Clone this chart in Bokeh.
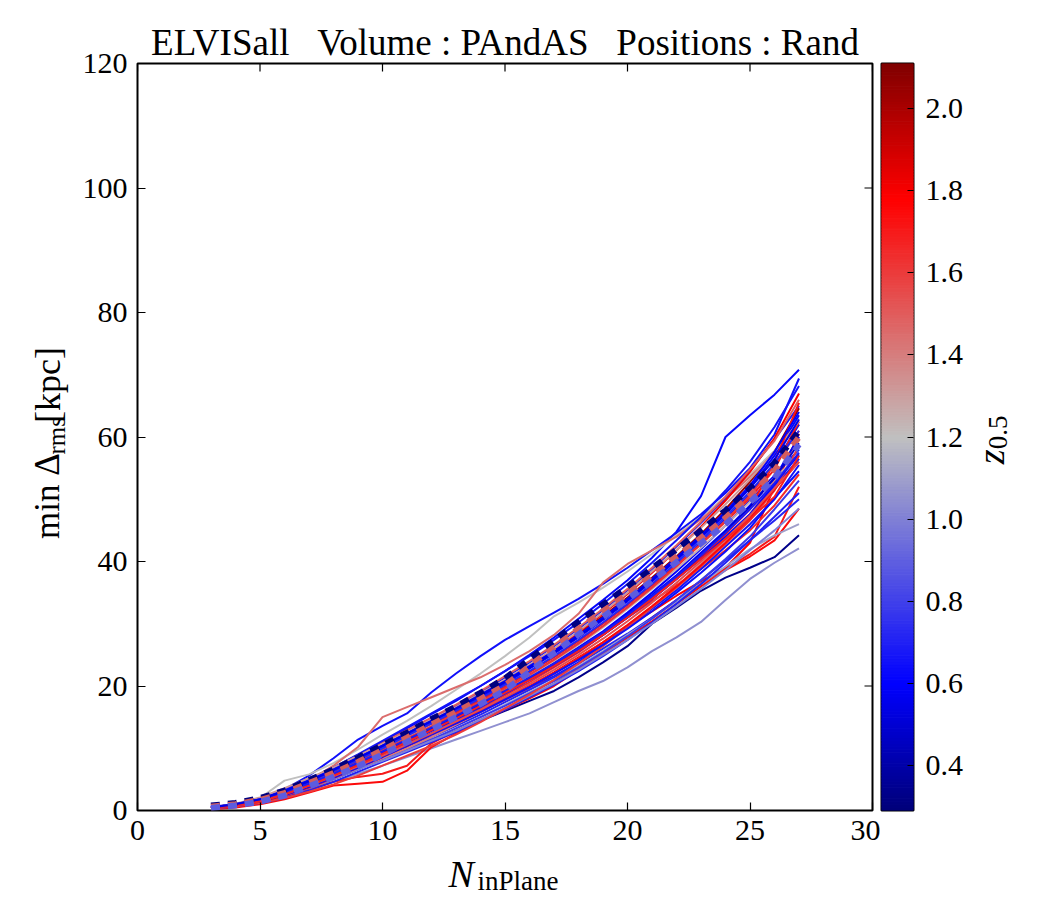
import math
import numpy as np
from bokeh.plotting import figure
from bokeh.models import Range1d, FixedTicker, Label, LinearAxis, PrintfTickFormatter
from bokeh.layouts import row, column
from bokeh.embed import file_html
from bokeh.resources import INLINE

# ---------------- data ----------------
n_in_plane = list(range(3, 28))
x_ticks = [0, 5, 10, 15, 20, 25, 30]
y_ticks = [0, 20, 40, 60, 80, 100, 120]
cbar_ticks = [0.4, 0.6, 0.8, 1.0, 1.2, 1.4, 1.6, 1.8, 2.0]
z_low, z_high = 0.29, 2.11

host_01 = [0.5, 0.9, 1.6, 2.9, 4.6, 6.6, 8.8, 11.0, 13.2, 15.5, 17.6, 20.0, 22.4, 25.0, 27.8, 30.8, 33.8, 37.0, 40.6, 44.8, 50.5, 60.0, 63.5, 66.8, 70.8]
host_02 = [0.6, 1.0, 1.8, 3.4, 5.6, 8.4, 11.4, 13.6, 15.6, 19.0, 22.0, 24.8, 27.4, 29.6, 31.8, 34.0, 36.4, 39.0, 41.8, 44.6, 47.6, 51.0, 55.0, 60.4, 69.4]
host_03 = [0.5, 1.0, 2.0, 4.8, 5.8, 7.6, 9.8, 12.2, 14.4, 16.8, 19.4, 22.0, 24.8, 27.8, 31.2, 33.4, 35.8, 38.4, 41.2, 44.2, 47.2, 50.4, 54.0, 57.8, 63.0]
host_04 = [0.4, 0.9, 1.7, 3.0, 4.8, 7.2, 10.2, 15.0, 16.6, 18.2, 19.8, 21.4, 23.4, 25.6, 28.2, 31.6, 36.6, 39.6, 41.8, 44.0, 46.8, 50.0, 53.6, 57.4, 62.0]
host_05 = [0.3, 0.8, 1.3, 2.4, 3.6, 5.0, 6.6, 8.3, 9.9, 11.4, 12.8, 14.4, 16.0, 17.6, 19.2, 21.4, 23.8, 26.4, 30.0, 32.6, 35.3, 37.4, 39.0, 40.7, 44.2]
host_06 = [0.3, 0.7, 1.4, 2.3, 3.4, 4.6, 5.9, 7.2, 8.6, 10.0, 11.4, 12.8, 14.2, 15.6, 17.4, 19.2, 20.8, 23.0, 25.6, 27.8, 30.3, 33.8, 37.2, 39.8, 42.1]
host_07 = [0.2, 0.5, 1.0, 1.8, 2.9, 4.0, 4.3, 4.6, 6.4, 10.2, 12.4, 14.4, 16.2, 18.0, 20.0, 22.6, 25.2, 27.8, 30.4, 33.2, 36.0, 38.6, 40.8, 43.4, 48.5]
host_08 = [0.3, 0.7, 1.3, 2.2, 3.4, 4.6, 5.4, 5.9, 7.2, 10.8, 12.8, 14.6, 16.4, 18.2, 20.4, 22.8, 25.4, 28.2, 31.0, 33.8, 36.4, 38.8, 41.2, 44.0, 52.0]
host_09 = [0.4, 0.9, 1.5, 2.6, 3.9, 5.4, 7.0, 8.8, 10.6, 12.4, 14.2, 16.0, 18.0, 20.0, 22.2, 24.6, 27.0, 29.6, 32.0, 34.5, 36.8, 39.0, 43.0, 52.0, 60.5]
host_10 = [0.4, 0.8, 1.5, 2.7, 4.2, 5.8, 7.5, 9.2, 11.0, 12.8, 14.6, 16.4, 18.5, 20.6, 23.0, 25.4, 28.2, 31.0, 33.6, 36.2, 38.8, 41.8, 45.0, 49.0, 54.0]
host_11 = [0.4, 0.8, 1.4, 2.3, 3.6, 5.2, 7.0, 8.8, 10.6, 12.4, 14.4, 16.2, 18.0, 19.8, 21.6, 23.8, 26.6, 29.6, 32.4, 35.4, 38.8, 42.4, 46.0, 50.0, 55.5]
host_12 = [0.4, 0.8, 1.5, 2.5, 3.9, 5.4, 7.0, 8.6, 10.2, 11.8, 13.6, 15.4, 17.4, 19.4, 21.4, 23.6, 26.0, 28.4, 31.0, 33.8, 37.0, 40.2, 43.4, 46.6, 50.0]
host_13 = [0.5, 0.9, 1.7, 2.8, 4.2, 5.6, 7.0, 8.4, 9.8, 11.4, 13.2, 15.0, 17.0, 19.0, 21.0, 23.2, 25.6, 28.2, 30.8, 33.6, 36.4, 39.2, 42.0, 44.2, 46.0]
host_14 = [0.5, 1.0, 1.8, 3.0, 4.6, 6.2, 8.0, 9.8, 11.8, 13.8, 15.8, 17.6, 19.6, 21.6, 23.8, 26.2, 28.8, 31.8, 35.0, 38.4, 42.0, 45.8, 49.8, 53.8, 58.0]
host_15 = [0.5, 1.0, 1.8, 3.2, 4.9, 6.8, 8.8, 10.8, 12.8, 14.8, 16.8, 19.0, 21.4, 23.8, 26.4, 29.2, 32.2, 35.4, 38.8, 42.4, 46.2, 50.2, 54.6, 59.6, 65.0]
host_16 = [0.4, 0.9, 1.6, 2.8, 4.4, 6.0, 7.8, 9.8, 11.8, 13.6, 15.6, 17.6, 19.6, 21.8, 24.2, 26.8, 29.6, 32.6, 35.8, 39.4, 43.0, 46.8, 50.8, 55.6, 62.0]
host_17 = [0.5, 1.0, 1.8, 3.0, 4.6, 6.4, 8.4, 10.4, 12.4, 14.4, 16.4, 18.4, 20.6, 23.0, 25.6, 28.4, 31.2, 34.2, 37.4, 40.8, 44.4, 48.4, 52.8, 57.6, 64.6]
host_18 = [0.4, 0.8, 1.6, 2.9, 4.5, 6.2, 8.2, 10.2, 12.2, 14.2, 16.2, 18.4, 20.8, 23.2, 25.8, 28.6, 31.6, 34.8, 38.2, 41.8, 45.6, 49.8, 54.4, 59.8, 67.0]
host_19 = [0.5, 1.0, 1.9, 3.3, 5.0, 6.9, 8.9, 10.9, 12.9, 14.9, 17.0, 19.2, 21.6, 24.0, 26.6, 29.4, 32.4, 35.6, 39.0, 42.6, 46.4, 50.4, 54.8, 59.4, 66.0]
host_20 = [0.4, 0.9, 1.7, 3.0, 4.6, 6.4, 8.2, 10.0, 11.9, 13.8, 15.8, 17.8, 19.9, 22.2, 24.6, 27.2, 30.0, 33.0, 36.2, 39.4, 42.8, 46.4, 50.2, 54.8, 62.5]
host_21 = [0.5, 0.9, 1.6, 2.7, 4.2, 5.8, 7.4, 9.2, 11.0, 12.8, 14.6, 16.6, 18.8, 21.0, 23.2, 25.6, 28.2, 31.0, 34.0, 37.2, 40.6, 44.0, 47.6, 52.0, 56.5]
host_22 = [0.4, 0.8, 1.4, 2.4, 3.7, 5.1, 6.6, 8.2, 9.8, 11.4, 13.2, 15.0, 16.8, 18.8, 20.8, 23.0, 25.4, 28.0, 30.8, 33.8, 37.0, 40.4, 44.0, 48.4, 53.0]
host_23 = [0.5, 1.0, 1.8, 3.1, 4.7, 6.4, 8.2, 10.0, 11.8, 13.6, 15.4, 17.4, 19.4, 21.6, 24.0, 26.6, 29.4, 32.4, 35.6, 38.8, 42.2, 45.8, 49.6, 53.4, 57.0]
host_24 = [0.4, 0.8, 1.5, 2.5, 3.8, 5.2, 6.8, 8.4, 10.0, 11.8, 13.8, 15.8, 17.8, 19.8, 22.0, 24.4, 27.0, 29.8, 32.8, 36.0, 39.6, 43.4, 47.6, 53.0, 60.0]
host_25 = [0.5, 1.0, 1.7, 2.9, 4.3, 5.8, 7.4, 9.2, 11.2, 13.2, 15.0, 17.0, 19.0, 21.2, 23.6, 26.0, 28.6, 31.6, 34.6, 37.8, 41.4, 45.0, 49.0, 53.4, 60.0]
host_26 = [0.3, 0.7, 1.2, 2.0, 3.2, 4.6, 6.2, 7.8, 9.4, 11.0, 12.6, 14.4, 16.2, 18.2, 20.2, 22.4, 24.8, 27.4, 30.2, 33.2, 36.4, 39.8, 43.4, 47.2, 51.0]
host_27 = [0.4, 0.8, 1.4, 2.4, 3.6, 5.0, 6.6, 8.0, 9.6, 11.2, 12.8, 14.6, 16.4, 18.4, 20.4, 22.6, 25.0, 27.4, 30.0, 32.8, 35.6, 38.6, 41.8, 45.0, 48.5]
host_28 = [0.3, 0.7, 1.2, 2.0, 3.0, 4.2, 5.6, 7.2, 8.8, 10.4, 12.2, 14.2, 16.4, 18.6, 21.0, 23.6, 26.4, 29.4, 32.6, 35.8, 39.2, 42.8, 46.6, 51.4, 58.5]
host_29 = [0.5, 0.9, 1.7, 2.9, 4.5, 6.3, 8.2, 10.2, 12.2, 14.2, 16.2, 18.2, 20.4, 22.8, 25.2, 27.8, 30.6, 33.6, 36.8, 40.2, 43.8, 47.6, 51.8, 57.0, 63.5]
host_30 = [0.5, 1.0, 1.9, 3.3, 5.0, 6.9, 9.0, 11.2, 13.4, 15.6, 17.8, 20.0, 22.4, 24.8, 27.4, 30.2, 33.2, 36.4, 39.8, 43.4, 47.2, 51.4, 56.0, 61.6, 68.2]
host_31 = [0.5, 1.1, 2.1, 3.6, 5.2, 6.9, 8.8, 10.7, 12.6, 14.6, 16.6, 18.8, 21.0, 23.4, 26.0, 28.8, 31.8, 35.0, 38.4, 41.8, 45.4, 49.2, 53.2, 57.6, 62.5]
host_32 = [0.4, 0.9, 1.6, 2.7, 4.2, 5.8, 7.6, 9.4, 11.2, 13.2, 15.2, 17.2, 19.2, 21.2, 23.4, 25.8, 28.4, 31.2, 34.2, 37.4, 40.8, 44.4, 48.4, 56.0, 65.5]
host_33 = [0.5, 0.9, 1.6, 2.8, 4.3, 6.0, 7.8, 9.6, 11.4, 13.2, 15.0, 17.0, 19.0, 21.2, 23.4, 25.8, 28.4, 31.2, 34.2, 37.4, 41.0, 44.8, 48.8, 53.4, 59.0]
host_34 = [0.4, 0.9, 1.5, 2.6, 4.0, 5.6, 7.4, 9.2, 11.0, 12.9, 14.8, 16.8, 18.8, 21.0, 23.2, 25.6, 28.2, 31.0, 34.0, 37.2, 40.4, 43.8, 47.6, 52.4, 57.2]
host_35 = [0.5, 1.0, 1.8, 3.1, 4.8, 6.6, 8.5, 10.4, 12.4, 14.4, 16.4, 18.6, 20.8, 23.2, 25.6, 28.2, 31.0, 34.0, 37.2, 40.6, 44.2, 48.0, 52.2, 57.6, 64.0]
host_36 = [0.4, 0.8, 1.4, 2.4, 3.7, 5.2, 6.9, 8.6, 10.4, 12.2, 14.0, 15.9, 17.8, 19.8, 22.0, 24.4, 27.0, 29.8, 32.8, 36.0, 39.4, 43.0, 47.0, 51.6, 56.0]
host_37 = [0.4, 0.8, 1.5, 2.5, 3.8, 5.3, 6.9, 8.6, 10.4, 12.2, 14.0, 15.8, 17.8, 19.8, 22.0, 24.2, 26.6, 29.2, 32.0, 35.0, 38.2, 41.6, 45.4, 50.2, 54.5]
host_38 = [0.5, 0.9, 1.7, 2.9, 4.4, 6.1, 7.9, 9.7, 11.6, 13.5, 15.5, 17.5, 19.6, 21.8, 24.2, 26.8, 29.6, 32.6, 35.8, 39.2, 42.8, 46.6, 50.6, 55.6, 61.0]
host_39 = [0.5, 1.0, 1.7, 3.0, 4.6, 6.3, 8.1, 10.0, 12.0, 14.0, 16.0, 18.0, 20.2, 22.4, 24.8, 27.4, 30.2, 33.2, 36.4, 39.8, 43.4, 47.2, 51.2, 55.8, 61.0]
host_40 = [0.4, 0.8, 1.5, 2.6, 4.0, 5.5, 7.1, 8.8, 10.6, 12.4, 14.3, 16.2, 18.2, 20.3, 22.6, 25.0, 27.6, 30.4, 33.4, 36.6, 40.0, 43.6, 47.4, 51.8, 56.0]
host_41 = [0.4, 0.9, 1.6, 2.8, 4.3, 5.9, 7.7, 9.5, 11.4, 13.3, 15.2, 17.2, 19.2, 21.4, 23.6, 26.0, 28.6, 31.4, 34.4, 37.6, 41.0, 44.6, 48.4, 52.6, 57.5]
host_42 = [0.4, 0.8, 1.5, 2.6, 4.0, 5.6, 7.3, 9.1, 11.0, 12.9, 14.8, 16.8, 18.9, 21.0, 23.2, 25.6, 28.2, 31.0, 34.0, 37.2, 40.4, 43.6, 46.8, 50.4, 57.0]
host_43 = [0.5, 1.0, 1.8, 3.1, 4.7, 6.5, 8.4, 10.4, 12.4, 14.4, 16.4, 18.5, 20.7, 23.0, 25.4, 28.0, 30.8, 33.8, 37.0, 40.4, 44.0, 47.8, 51.8, 56.4, 62.8]

z_half = [0.62, 0.65, 1.20, 1.45, 0.33, 1.05, 1.75, 1.70, 1.78, 1.65, 0.66,
          0.72, 1.10, 0.60, 0.68, 0.64, 2.05, 1.80, 1.50, 1.70, 0.66, 0.78,
          1.25, 1.40, 0.58, 0.70, 1.00, 1.60, 0.62, 0.66, 1.32, 1.72, 0.50,
          0.62, 0.60, 1.76, 0.64, 1.62, 0.72, 1.55, 0.68, 1.68, 0.55]

mean_navy = [0.8, 1.2, 2.0, 3.2, 4.9, 6.6, 8.5, 10.5, 12.5, 14.7, 16.7, 18.9, 21.2, 24.3, 27.3, 30.3, 33.1, 35.9, 38.9, 41.9, 45.0, 48.2, 51.8, 55.8, 61.0]
mean_red = [0.6, 1.0, 1.7, 2.8, 4.4, 6.0, 7.8, 9.7, 11.7, 13.8, 15.8, 17.9, 20.1, 23.2, 26.2, 29.2, 32.0, 34.8, 37.8, 40.8, 43.8, 47.0, 50.6, 54.6, 60.0]
mean_slate = [0.4, 0.8, 1.4, 2.4, 3.9, 5.4, 7.1, 9.0, 11.0, 13.0, 15.0, 17.1, 19.3, 22.3, 25.3, 28.3, 31.1, 33.9, 36.9, 39.9, 42.9, 46.0, 49.5, 53.4, 58.8]

hosts = [host_01, host_02, host_03, host_04, host_05, host_06, host_07, host_08,
         host_09, host_10, host_11, host_12, host_13, host_14, host_15, host_16,
         host_17, host_18, host_19, host_20, host_21, host_22, host_23, host_24,
         host_25, host_26, host_27, host_28, host_29, host_30, host_31, host_32,
         host_33, host_34, host_35, host_36, host_37, host_38, host_39, host_40,
         host_41, host_42, host_43]

# ---------------- colour map ----------------
cmap_stops = [(0.29, (0, 0, 120)), (0.60, (0, 0, 255)), (1.20, (192, 192, 192)),
              (1.78, (255, 0, 0)), (2.11, (128, 0, 0))]


def zcolor(z):
    z = min(max(z, cmap_stops[0][0]), cmap_stops[-1][0])
    for (z0, c0), (z1, c1) in zip(cmap_stops[:-1], cmap_stops[1:]):
        if z0 <= z <= z1:
            t = (z - z0) / (z1 - z0)
            r, g, b = (int(round(a + (bb - a) * t)) for a, bb in zip(c0, c1))
            return "#%02x%02x%02x" % (r, g, b)
    return "#000000"


FONT = "Liberation Serif"
ROW_H = 850  # height of the upper row; the x-label strip sits below it
NB = "\u00a0"


def blank(width, height):
    f = figure(width=width, height=height, x_range=Range1d(0, width),
               y_range=Range1d(0, height), x_axis_type=None, y_axis_type=None,
               output_backend="svg", toolbar_location=None, min_border=0)
    f.outline_line_color = None
    f.grid.visible = False
    f.border_fill_color = "white"
    f.background_fill_color = "white"
    return f


def vlabel(fig, ox, oy, px, py, text, size, style="normal"):
    # rotated (bottom-to-top) text; px is the page x of the text's vertical centre line,
    # py the page y where the text starts; (ox, oy) = page position of the strip corner
    fig.add_layout(Label(x=px - ox, y=fig.height - (py - oy), text=text,
                         angle=math.pi / 2, text_font=FONT, text_font_size=size,
                         text_font_style=style, text_baseline="middle",
                         text_align="left", text_color="black"))


def hlabel(fig, ox, oy, px, py, text, size, style="normal"):
    # px = page x of the text start, py = page y of the text's centre line
    fig.add_layout(Label(x=px - ox, y=fig.height - (py - oy), text=text,
                         text_font=FONT, text_font_size=size, text_font_style=style,
                         text_baseline="middle", text_align="left",
                         text_color="black"))


# ---------------- y-label strip (x 0..76) ----------------
YL_W = 76
ylab = blank(YL_W, ROW_H)
vlabel(ylab, 0, 0, 47, 541, "min" + NB + "Δ", "35px")
vlabel(ylab, 0, 0, 56, 445, "rms", "25px")
vlabel(ylab, 0, 0, 47, 409, "[kpc]", "36px")

# ---------------- main plot (x 76..880) ----------------
FL, FR, FT, FB = 137, 872, 63, 810
P_W = 880 - YL_W
p = figure(width=P_W, height=ROW_H, x_range=Range1d(0, 30), y_range=Range1d(0, 120),
           output_backend="svg", toolbar_location=None,
           min_border_left=FL - YL_W, min_border_right=880 - FR, min_border_top=FT,
           min_border_bottom=ROW_H - FB,
           title="ELVISall" + NB * 3 + "Volume" + NB + ":" + NB + "PAndAS" + NB * 3
                 + "Positions" + NB + ":" + NB + "Rand")
p.title.align = "center"
p.title.text_font = FONT
p.title.text_font_size = "37px"
p.title.text_font_style = "normal"
p.title.text_color = "black"
p.title.standoff = 2
p.grid.visible = False
p.outline_line_color = "black"
p.outline_line_width = 2
p.background_fill_color = "white"
p.border_fill_color = "white"

for ax in (p.xaxis[0], p.yaxis[0]):
    ax.axis_line_color = None
    ax.major_tick_in = 8
    ax.major_tick_out = 0
    ax.major_tick_line_width = 1.2
    ax.minor_tick_line_color = None
    ax.major_label_text_font = FONT
    ax.major_label_text_font_size = "30px"
    ax.major_label_text_color = "black"
    ax.major_label_standoff = 10
p.xaxis[0].ticker = FixedTicker(ticks=x_ticks)
p.yaxis[0].ticker = FixedTicker(ticks=y_ticks)

# mirrored inward ticks on the top and right edges
p.ray(x=x_ticks, y=[120] * len(x_ticks), length=8, length_units="screen",
      angle=-math.pi / 2, line_color="black", line_width=1.2)
p.ray(x=[30] * len(y_ticks), y=y_ticks, length=8, length_units="screen",
      angle=math.pi, line_color="black", line_width=1.2)

for ys, z in zip(hosts, z_half):
    p.line(n_in_plane, ys, line_color=zcolor(z), line_width=2)

p.line(n_in_plane, mean_navy, line_color="#00007f", line_width=6, line_dash="9 8", line_dash_offset=0)
p.line(n_in_plane, mean_red, line_color="#d45c5c", line_width=6, line_dash="9 8", line_dash_offset=0)
p.line(n_in_plane, mean_slate, line_color="#5c5ce0", line_width=6, line_dash="9 8", line_dash_offset=0)

# ---------------- colour bar (x 880..970) ----------------
CL, CR, CT, CB = 881, 913, 45, 810
C_W = 90
c = figure(width=C_W, height=ROW_H, x_range=Range1d(0, 1), y_range=Range1d(z_low, z_high),
           output_backend="svg", toolbar_location=None,
           min_border_left=CL - 880, min_border_right=880 + C_W - CR, min_border_top=CT,
           min_border_bottom=ROW_H - CB)
c.grid.visible = False
c.xaxis.visible = False
c.yaxis.visible = False
c.outline_line_color = "black"
c.outline_line_width = 2
c.border_fill_color = "white"

edges = np.linspace(z_low, z_high, 257)
mids = 0.5 * (edges[:-1] + edges[1:])
cols = [zcolor(m) for m in mids]
c.quad(left=0, right=1, bottom=edges[:-1], top=edges[1:],
       fill_color=cols, line_color=cols, line_width=1)

cax = LinearAxis(ticker=FixedTicker(ticks=cbar_ticks), axis_line_color=None,
                 major_tick_in=6, major_tick_out=0, major_tick_line_width=1.2,
                 minor_tick_line_color=None, major_label_text_font=FONT,
                 major_label_text_font_size="30px", major_label_standoff=12,
                 major_label_text_color="black",
                 formatter=PrintfTickFormatter(format="%.1f"))
c.add_layout(cax, "right")

# ---------------- colour-bar label strip (x 970..1050) ----------------
ZL_X0 = 880 + C_W
zlab = blank(1050 - ZL_X0, ROW_H)
vlabel(zlab, ZL_X0, 0, 990, 456, "z", "38px", "italic")
vlabel(zlab, ZL_X0, 0, 997, 439, "0.5", "27px")

# ---------------- x-label strip (y 850..900) ----------------
xlab = blank(1050, 900 - ROW_H)
hlabel(xlab, 0, ROW_H, 448, 873, "N", "38px", "italic")
hlabel(xlab, 0, ROW_H, 477, 880, "inPlane", "27px")

layout = column(row(ylab, p, c, zlab), xlab)
open("out.html", "w").write(file_html(layout, INLINE))
